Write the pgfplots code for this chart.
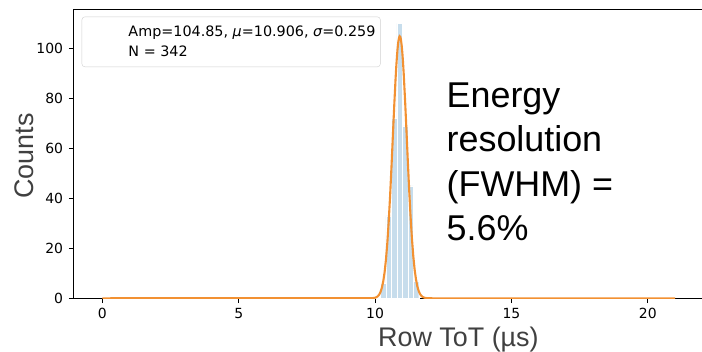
\documentclass[border=0pt]{standalone}
\usepackage{fontspec}
\setmainfont{Liberation Sans}
\newfontfamily\dejavu{DejaVu Sans}
\usepackage{pgfplots}
\pgfplotsset{compat=1.18}
\definecolor{barblue}{RGB}{199,221,236}
\definecolor{fitorange}{RGB}{242,145,50}
\definecolor{labgray}{RGB}{64,64,64}
\begin{document}
\begin{tikzpicture}[x=1bp,y=1bp]
\useasboundingbox (0,0) rectangle (702,351);
\begin{axis}[
  at={(73.7bp,52.7bp)}, anchor=south west,
  scale only axis, width=630bp, height=289.3bp,
  xmin=-1.05, xmax=22.05, ymin=0, ymax=115.7,
  xtick={0,5,10,15,20}, ytick={0,20,40,60,80,100},
  tick align=outside, major tick length=4.9bp,
  xtick pos=bottom, ytick pos=left,
  axis line style={line width=0.8bp},
  tick style={line width=0.8bp, black},
  /pgf/number format/assume math mode=true,
  tick label style={font=\dejavu\fontsize{14}{16}\selectfont},
  xticklabel style={anchor=north, inner sep=0pt, yshift=-4.8bp},
  yticklabel style={anchor=east, inner sep=0pt, xshift=-5.5bp},
  legend style={at={(axis description cs:0.0127,0.9736)}, anchor=north west,
    draw={rgb,255:red,208;green,208;blue,208}, rounded corners=3bp, fill=white,
    inner xsep=5bp, inner ysep=8bp, row sep=6bp,
    font=\dejavu\fontsize{14.4}{16}\selectfont,
    nodes={inner sep=0pt, text height=12bp, text depth=2bp}},
  legend cell align=left,
]
\addplot[ybar interval, fill=barblue, draw=white, line width=0.4bp, forget plot] coordinates {
(10.0,0) (10.2,6) (10.4,33) (10.6,72) (10.8,110) (11.0,69) (11.2,45) (11.4,7) (11.6,0)
};
\addplot[color=fitorange, line width=2.1bp, forget plot] coordinates {
(0,0) (9.9,0.056) (10.0,0.231) (10.05,0.445) (10.1,0.827) (10.15,1.481) (10.2,2.55) (10.25,4.24)
(10.3,6.79) (10.35,10.47) (10.4,15.56) (10.45,22.25) (10.5,30.69) (10.55,40.77) (10.6,52.17)
(10.65,64.33) (10.7,76.42) (10.75,87.46) (10.775,92.26) (10.8,96.43) (10.825,99.85) (10.85,102.43)
(10.875,104.10) (10.9,104.82) (10.925,104.57) (10.95,103.35) (10.975,101.19) (11.0,98.17)
(11.025,94.35) (11.05,89.83) (11.1,79.20) (11.15,67.28) (11.2,55.05) (11.25,43.40) (11.3,32.97)
(11.35,24.12) (11.4,17.01) (11.45,11.55) (11.5,7.56) (11.55,4.76) (11.6,2.89) (11.65,1.69)
(11.7,0.954) (11.75,0.518) (11.8,0.271) (11.85,0.137) (11.9,0.066) (12.0,0.015) (12.1,0) (21,0)
};
\addlegendimage{draw=none, legend image code/.code={\path[draw=none] (0bp,0bp) -- (41.6bp,0bp);}}
\addlegendentry{Amp=104.85, {\itshape μ}=10.906, {\itshape σ}=0.259}
\addlegendimage{draw=none, legend image code/.code={\path[draw=none] (0bp,0bp) -- (41.6bp,0bp);}}
\addlegendentry{N = 342}
\end{axis}
\node[rotate=90, anchor=base, inner sep=0pt, text=labgray, font=\fontsize{27}{32}\selectfont] at (33.3,195) {Counts};
\node[anchor=base west, inner sep=0pt, text=labgray, font=\fontsize{27}{32}\selectfont] at (378,5) {Row ToT (µs)};
\node[anchor=base west, inner sep=0pt, font=\fontsize{36}{44}\selectfont] at (446.5,243.7) {Energy};
\node[anchor=base west, inner sep=0pt, font=\fontsize{36}{44}\selectfont] at (446.5,199.3) {resolution};
\node[anchor=base west, inner sep=0pt, font=\fontsize{36}{44}\selectfont] at (446.5,155) {(FWHM) =};
\node[anchor=base west, inner sep=0pt, font=\fontsize{36}{44}\selectfont] at (446.5,111) {5.6\%};
\end{tikzpicture}
\end{document}
